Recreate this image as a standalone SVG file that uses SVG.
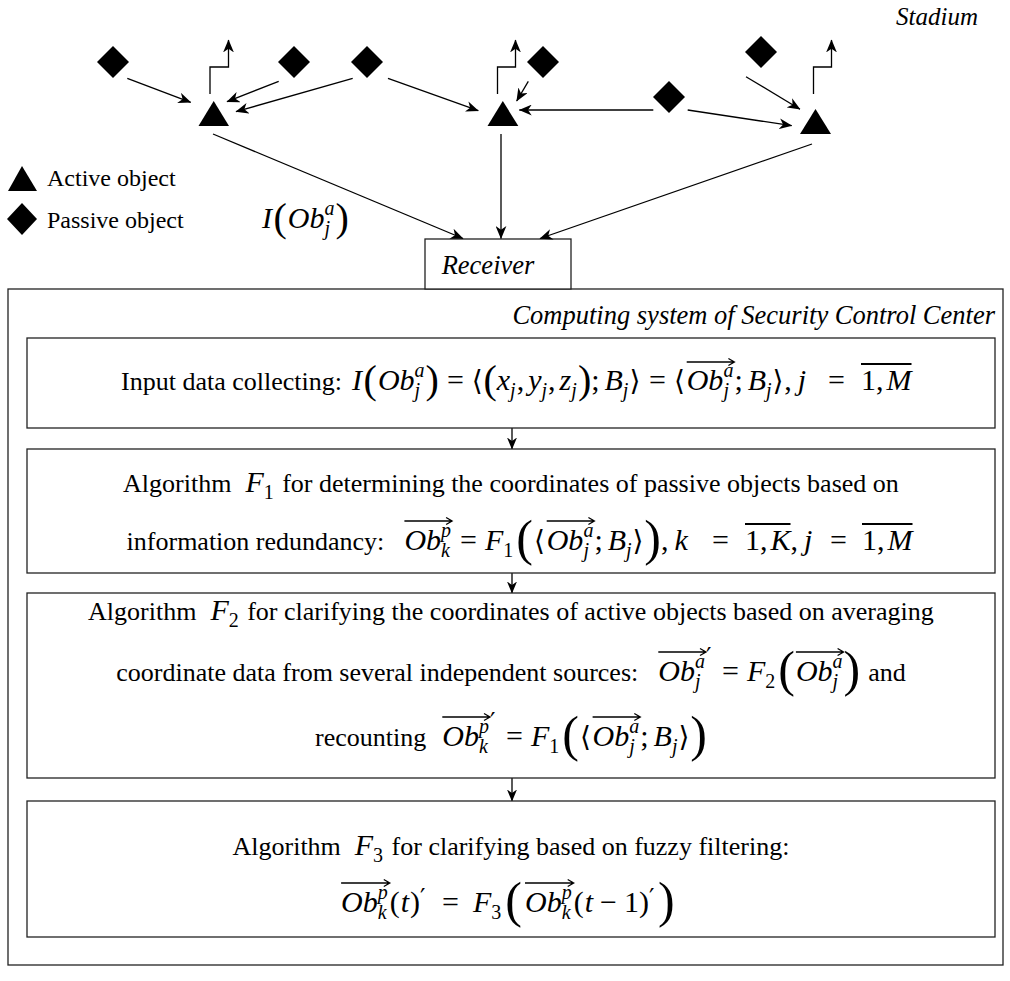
<svg xmlns="http://www.w3.org/2000/svg" width="1010" height="981" viewBox="0 0 1010 981">
<defs>
<style>
text{fill:#000}
.body{font-family:"Liberation Serif","Times New Roman",serif;font-size:26px}
.lg{font-family:"Liberation Serif","Times New Roman",serif;font-size:24px}
.ital{font-family:"Liberation Serif","Times New Roman",serif;font-style:italic;font-size:26px}
.m{font-family:"Liberation Serif","Times New Roman",serif;font-style:italic;font-size:30px}
.mu{font-family:"Liberation Serif","Times New Roman",serif;font-size:30px}
.s{font-family:"Liberation Serif","Times New Roman",serif;font-style:italic;font-size:20px}
.su{font-family:"Liberation Serif","Times New Roman",serif;font-size:20px}
.b1{font-family:"Liberation Serif","Times New Roman",serif;font-size:40px}
.b2{font-family:"Liberation Serif","Times New Roman",serif;font-size:50px}
.ang{font-family:"DejaVu Sans",sans-serif;font-size:28px}
.pr{font-family:"DejaVu Serif",serif;font-size:24px}
.vec{stroke:#000;stroke-width:1.3;fill:none}
.bar{stroke:#000;stroke-width:2.2}
.box{fill:#fff;stroke:#222;stroke-width:1.3}
.shape{fill:#000}
.con{stroke:#000;stroke-width:1.3;fill:none}
</style>
<marker id="ah" viewBox="0 0 12 10" refX="11.5" refY="5" markerWidth="13" markerHeight="11" markerUnits="userSpaceOnUse" orient="auto"><path d="M0,0 L12,5 L0,10 L3.5,5 z" fill="#000"/></marker>
<marker id="ah2" viewBox="0 0 12 10" refX="11.5" refY="5" markerWidth="12" markerHeight="10" markerUnits="userSpaceOnUse" orient="auto"><path d="M0,0 L12,5 L0,10 L3.5,5 z" fill="#000"/></marker>
</defs>
<rect width="1010" height="981" fill="#fff"/>

<text id="stadium" class="ital" x="978" y="25" text-anchor="end" style="font-size:25px">Stadium</text>

<g id="legend">
<polygon class="shape" points="22,166 8,191 37,191"/>
<text class="lg" x="47" y="186">Active object</text>
<polygon class="shape" points="22,203 37,219 22,235 7,219"/>
<text class="lg" x="47" y="228">Passive object</text>
</g>

<g id="label-I">
<text class="m" x="262" y="228">I</text>
<text class="b1" x="273.5" y="231">(</text>
<text class="m" x="287.8" y="228">Ob</text>
<text class="s" x="324.5" y="235">j</text>
<text class="s" x="324.5" y="215">a</text>
<text class="b1" x="335.5" y="231">)</text>
</g>

<g id="d1"><polygon class="shape" points="113,46 129,62 113,78 97,62"/></g>
<g id="d2"><polygon class="shape" points="294,46 310,62 294,78 278,62"/></g>
<g id="d3"><polygon class="shape" points="367,46 383,62 367,78 351,62"/></g>
<g id="d4"><polygon class="shape" points="543,46 559,62 543,78 527,62"/></g>
<g id="d5"><polygon class="shape" points="669,81 685,97 669,113 653,97"/></g>
<g id="d6"><polygon class="shape" points="761,36 777,52 761,68 745,52"/></g>

<g id="t1"><polygon class="shape" points="213.7,101 198.5,126 229,126"/></g>
<g id="t2"><polygon class="shape" points="502.8,101 487.5,126 518.3,126"/></g>
<g id="t3"><polygon class="shape" points="815.5,109 800,134 831,134"/></g>

<g id="computing-system">
<rect x="8" y="289" width="995" height="676" fill="none" stroke="#222" stroke-width="1.3"/>
<text class="ital" x="995" y="324" text-anchor="end" style="font-size:26.5px">Computing system of Security Control Center</text>
</g>

<g id="receiver">
<rect class="box" x="425" y="239" width="146" height="50"/>
<text class="ital" x="488" y="274" text-anchor="middle" style="font-size:26.5px">Receiver</text>
</g>

<g id="connectors">
<path class="con" d="M210 94 V67 H228.5 V40" marker-end="url(#ah)"/>
<path class="con" d="M497.5 94 V67 H515.5 V40" marker-end="url(#ah)"/>
<path class="con" d="M813.5 94 V67 H831.5 V40" marker-end="url(#ah)"/>
<line class="con" x1="127.3" y1="78.3" x2="190.7" y2="102.3" marker-end="url(#ah)"/>
<line class="con" x1="278.7" y1="81.3" x2="227" y2="101.7" marker-end="url(#ah)"/>
<line class="con" x1="352.7" y1="78.3" x2="236" y2="111.7" marker-end="url(#ah)"/>
<line class="con" x1="388" y1="78.3" x2="478.3" y2="110.7" marker-end="url(#ah)"/>
<line class="con" x1="528.3" y1="81.3" x2="516.7" y2="101" marker-end="url(#ah)"/>
<line class="con" x1="653.3" y1="110" x2="519.3" y2="110" marker-end="url(#ah)"/>
<line class="con" x1="687.7" y1="110" x2="791.7" y2="125.7" marker-end="url(#ah)"/>
<line class="con" x1="746" y1="76.7" x2="800" y2="109.3" marker-end="url(#ah)"/>
<line class="con" x1="213" y1="134" x2="463" y2="238.5" marker-end="url(#ah)"/>
<line class="con" x1="501" y1="134" x2="501" y2="238.5" marker-end="url(#ah)"/>
<line class="con" x1="812" y1="144" x2="540" y2="238.5" marker-end="url(#ah)"/>
<line class="con" x1="512" y1="428" x2="512" y2="449" marker-end="url(#ah2)"/>
<line class="con" x1="512" y1="573" x2="512" y2="593" marker-end="url(#ah2)"/>
<line class="con" x1="512" y1="778" x2="512" y2="801" marker-end="url(#ah2)"/>
</g>

<g id="box1">
<rect class="box" x="27" y="338" width="968" height="90"/>
<text class="body" x="121" y="390">Input data collecting:</text>
<text class="m" x="352.1" y="390">I</text>
<text class="b1" x="363.6" y="393">(</text>
<text class="m" x="377.9" y="390">Ob</text>
<text class="s" x="414.6" y="397">j</text>
<text class="s" x="414.6" y="377">a</text>
<text class="b1" x="425.6" y="393">)</text>
<text class="mu" x="446.9" y="390">=</text>
<text class="ang" x="471.8" y="390">⟨</text>
<text class="b1" x="483.5" y="393">(</text>
<text class="m" x="496.8" y="390">x</text><text class="s" x="510.1" y="397">j</text>
<text class="mu" x="516.7" y="390">,</text>
<text class="m" x="528.2" y="390">y</text><text class="s" x="541.5" y="397">j</text>
<text class="mu" x="548.1" y="390">,</text>
<text class="m" x="559.6" y="390">z</text><text class="s" x="571.3" y="397">j</text>
<text class="b1" x="577.9" y="393">)</text>
<text class="mu" x="591.2" y="390">;</text>
<text class="m" x="604.5" y="390">B</text><text class="s" x="622.8" y="397">j</text>
<text class="ang" x="629.4" y="390">⟩</text>
<text class="mu" x="649.1" y="390">=</text>
<text class="ang" x="674" y="390">⟨</text>
<text class="m" x="686.7" y="390">Ob</text><text class="s" x="723.4" y="397">j</text><text class="s" x="723.4" y="377">a</text>
<path class="vec" d="M686.7 362 H734.4 M728.4 358.5 L734.4 362 L728.4 365.5"/>
<text class="mu" x="734.4" y="390">;</text>
<text class="m" x="747.7" y="390">B</text><text class="s" x="766" y="397">j</text>
<text class="ang" x="772.6" y="390">⟩</text>
<text class="mu" x="784.3" y="390">,</text>
<text class="m" x="797.8" y="390">j</text>
<text class="mu" x="828" y="390">=</text>
<text class="mu" x="861" y="390">1</text><text class="mu" x="876" y="390">,</text><text class="m" x="886.5" y="390">M</text>
<line class="bar" x1="861" y1="364" x2="911.5" y2="364"/>
</g>

<g id="box2">
<rect class="box" x="27" y="449" width="968" height="124"/>
<text class="body" x="123.1" y="492">Algorithm</text>
<text class="m" x="245.4" y="492">F</text><text class="su" x="263.7" y="499">1</text>
<text class="body" x="282.2" y="492">for determining the coordinates of passive objects based on</text>
<text class="body" x="126.6" y="550">information redundancy:</text>
<text class="m" x="404.4" y="550">Ob</text><text class="s" x="441.1" y="557">k</text><text class="s" x="441.1" y="537">p</text>
<path class="vec" d="M404.4 521 H452.1 M446.1 517.5 L452.1 521 L446.1 524.5"/>
<text class="mu" x="460.1" y="550">=</text>
<text class="m" x="485" y="550">F</text><text class="su" x="503.3" y="557">1</text>
<text class="b2" x="516.3" y="555">(</text>
<text class="ang" x="534" y="550">⟨</text>
<text class="m" x="546.7" y="550">Ob</text><text class="s" x="583.4" y="557">j</text><text class="s" x="583.4" y="537">a</text>
<path class="vec" d="M546.7 521 H594.4 M588.4 517.5 L594.4 521 L588.4 524.5"/>
<text class="mu" x="594.4" y="550">;</text>
<text class="m" x="607.7" y="550">B</text><text class="s" x="626" y="557">j</text>
<text class="ang" x="632.6" y="550">⟩</text>
<text class="b2" x="644.3" y="555">)</text>
<text class="mu" x="661" y="550">,</text>
<text class="m" x="674.5" y="550">k</text>
<text class="mu" x="712" y="550">=</text>
<text class="mu" x="745" y="550">1</text><text class="mu" x="760" y="550">,</text><text class="m" x="770.5" y="550">K</text>
<line class="bar" x1="745" y1="524" x2="790.5" y2="524"/>
<text class="mu" x="790.5" y="550">,</text>
<text class="m" x="804" y="550">j</text>
<text class="mu" x="830" y="550">=</text>
<text class="mu" x="862" y="550">1</text><text class="mu" x="877" y="550">,</text><text class="m" x="887.5" y="550">M</text>
<line class="bar" x1="862" y1="524" x2="912.5" y2="524"/>
</g>

<g id="box3">
<rect class="box" x="27" y="593" width="968" height="185"/>
<text class="body" x="88.1" y="620">Algorithm</text>
<text class="m" x="210.4" y="620">F</text><text class="su" x="228.7" y="627">2</text>
<text class="body" x="247.2" y="620">for clarifying the coordinates of active objects based on averaging</text>
<text class="body" x="116.3" y="681">coordinate data from several independent sources:</text>
<text class="m" x="658.3" y="681">Ob</text><text class="s" x="695" y="688">j</text><text class="s" x="695" y="668">a</text>
<path class="vec" d="M658.3 652 H706 M700 648.5 L706 652 L700 655.5"/>
<text class="pr" x="706" y="665">′</text>
<text class="mu" x="722" y="681">=</text>
<text class="m" x="746.9" y="681">F</text><text class="su" x="765.2" y="688">2</text>
<text class="b2" x="778.2" y="686">(</text>
<text class="m" x="795.9" y="681">Ob</text><text class="s" x="832.6" y="688">j</text><text class="s" x="832.6" y="668">a</text>
<path class="vec" d="M795.9 652 H843.6 M837.6 648.5 L843.6 652 L837.6 655.5"/>
<text class="b2" x="843.6" y="686">)</text>
<text class="body" x="868.3" y="681">and</text>
<text class="body" x="315.1" y="746">recounting</text>
<text class="m" x="442.3" y="746">Ob</text><text class="s" x="479" y="753">k</text><text class="s" x="479" y="733">p</text>
<path class="vec" d="M442.3 717 H490 M484 713.5 L490 717 L484 720.5"/>
<text class="pr" x="490" y="730">′</text>
<text class="mu" x="506" y="746">=</text>
<text class="m" x="530.9" y="746">F</text><text class="su" x="549.2" y="753">1</text>
<text class="b2" x="562.2" y="751">(</text>
<text class="ang" x="579.9" y="746">⟨</text>
<text class="m" x="592.6" y="746">Ob</text><text class="s" x="629.3" y="753">j</text><text class="s" x="629.3" y="733">a</text>
<path class="vec" d="M592.6 717 H640.3 M634.3 713.5 L640.3 717 L634.3 720.5"/>
<text class="mu" x="640.3" y="746">;</text>
<text class="m" x="653.6" y="746">B</text><text class="s" x="671.9" y="753">j</text>
<text class="ang" x="678.5" y="746">⟩</text>
<text class="b2" x="690.2" y="751">)</text>
</g>

<g id="box4">
<rect class="box" x="27" y="801" width="968" height="136"/>
<text class="body" x="232.5" y="855">Algorithm</text>
<text class="m" x="354.8" y="855">F</text><text class="su" x="373.1" y="862">3</text>
<text class="body" x="391.6" y="855">for clarifying based on fuzzy filtering:</text>
<text class="m" x="341.1" y="912">Ob</text><text class="s" x="377.8" y="919">k</text><text class="s" x="377.8" y="899">p</text>
<path class="vec" d="M341.1 883 H389.8 M383.8 879.5 L389.8 883 L383.8 886.5"/>
<text class="mu" x="389.8" y="912">(</text><text class="m" x="400.8" y="912">t</text><text class="mu" x="410.1" y="912">)</text><text class="pr" x="420.1" y="906">′</text>
<text class="mu" x="442.1" y="912">=</text>
<text class="m" x="473" y="912">F</text><text class="su" x="491.3" y="919">3</text>
<text class="b2" x="505.3" y="917">(</text>
<text class="m" x="525" y="912">Ob</text><text class="s" x="561.7" y="919">k</text><text class="s" x="561.7" y="899">p</text>
<path class="vec" d="M525 883 H573.7 M567.7 879.5 L573.7 883 L567.7 886.5"/>
<text class="mu" x="573.7" y="912">(</text><text class="m" x="584.7" y="912">t</text><text class="mu" x="600" y="912">−</text><text class="mu" x="623.9" y="912">1</text><text class="mu" x="638.9" y="912">)</text><text class="pr" x="648.9" y="906">′</text>
<text class="b2" x="658.1" y="917">)</text>
</g>
</svg>
